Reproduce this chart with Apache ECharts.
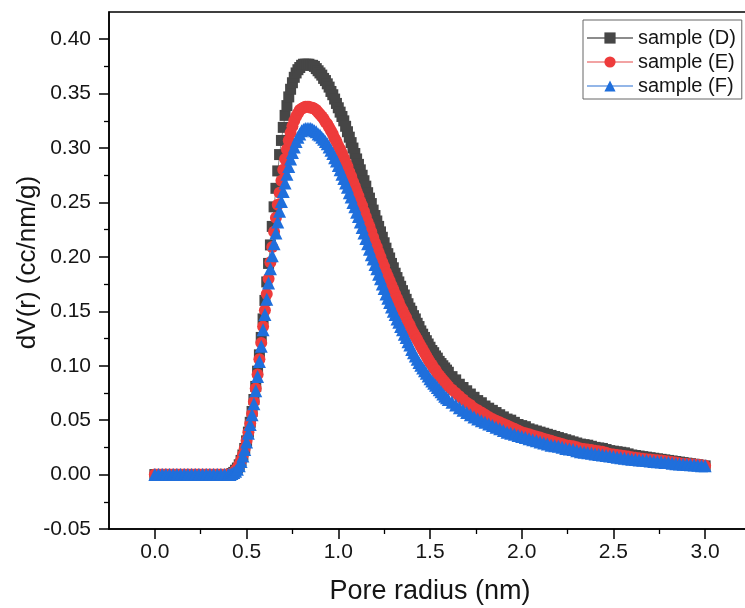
<!DOCTYPE html>
<html>
<head>
<meta charset="utf-8">
<script src="https://cdn.jsdelivr.net/npm/echarts@6/dist/echarts.min.js"></script>
<style>
  html, body { margin: 0; padding: 0; background: #fff; }
  #chart { width: 745px; height: 608px; }
</style>
</head>
<body>
<div id="chart"></div>
<script>
// pore radius (nm)
const radius = [
  0.00, 0.02, 0.04, 0.06, 0.08, 0.10, 0.12, 0.14, 0.16, 0.18, 0.20, 0.22, 0.24, 0.26, 0.28, 0.30, 0.32, 0.34, 0.36, 0.38, 0.40,
  0.41, 0.42, 0.43, 0.44, 0.45, 0.46, 0.47, 0.48, 0.49, 0.50, 0.51, 0.52, 0.53, 0.54, 0.55, 0.56, 0.57, 0.58, 0.59, 0.60,
  0.61, 0.62, 0.63, 0.64, 0.65, 0.66, 0.67, 0.68, 0.69, 0.70, 0.71, 0.72, 0.73, 0.74, 0.75, 0.76, 0.77, 0.78, 0.79, 0.80,
  0.81, 0.82, 0.83, 0.84, 0.85, 0.86, 0.87, 0.88, 0.89, 0.90, 0.91, 0.92, 0.93, 0.94, 0.95, 0.96, 0.97, 0.98, 0.99, 1.00,
  1.01, 1.02, 1.03, 1.04, 1.05, 1.06, 1.07, 1.08, 1.09, 1.10, 1.11, 1.12, 1.13, 1.14, 1.15, 1.16, 1.17, 1.18, 1.19, 1.20,
  1.21, 1.22, 1.23, 1.24, 1.25, 1.26, 1.27, 1.28, 1.29, 1.30, 1.31, 1.32, 1.33, 1.34, 1.35, 1.36, 1.37, 1.38, 1.39, 1.40,
  1.41, 1.42, 1.43, 1.44, 1.45, 1.46, 1.47, 1.48, 1.49, 1.50, 1.51, 1.52, 1.53, 1.54, 1.55, 1.56, 1.57, 1.58, 1.59, 1.60,
  1.62, 1.64, 1.66, 1.68, 1.70, 1.72, 1.74, 1.76, 1.78, 1.80, 1.82, 1.84, 1.86, 1.88, 1.90, 1.92, 1.94, 1.96, 1.98, 2.00,
  2.02, 2.04, 2.06, 2.08, 2.10, 2.12, 2.14, 2.16, 2.18, 2.20, 2.22, 2.24, 2.26, 2.28, 2.30, 2.32, 2.34, 2.36, 2.38, 2.40,
  2.42, 2.44, 2.46, 2.48, 2.50, 2.52, 2.54, 2.56, 2.58, 2.60, 2.62, 2.64, 2.66, 2.68, 2.70, 2.72, 2.74, 2.76, 2.78, 2.80,
  2.82, 2.84, 2.86, 2.88, 2.90, 2.92, 2.94, 2.96, 2.98, 3.00
];

// dV(r) (cc/nm/g)
const sampleD = [
  0, 0, 0, 0, 0, 0, 0, 0, 0, 0, 0, 0, 0, 0, 0, 0, 0, 0, 0, 0, 0,
  0.000, 0.001, 0.002, 0.004, 0.006, 0.009, 0.013, 0.018, 0.024, 0.031, 0.039, 0.048, 0.058, 0.069, 0.081, 0.095, 0.110, 0.126, 0.143, 0.160,
  0.177, 0.194, 0.211, 0.228, 0.246, 0.263, 0.279, 0.294, 0.307, 0.319, 0.330, 0.339, 0.347, 0.354, 0.360, 0.365, 0.369, 0.372, 0.374, 0.376,
  0.377, 0.377, 0.377, 0.377, 0.376, 0.376, 0.375, 0.373, 0.371, 0.369, 0.367, 0.364, 0.362, 0.359, 0.356, 0.352, 0.349, 0.345, 0.341, 0.337,
  0.333, 0.329, 0.325, 0.320, 0.315, 0.310, 0.305, 0.300, 0.295, 0.290, 0.285, 0.280, 0.275, 0.270, 0.265, 0.259, 0.254, 0.249, 0.243, 0.238,
  0.233, 0.228, 0.223, 0.218, 0.213, 0.208, 0.203, 0.199, 0.194, 0.190, 0.185, 0.181, 0.177, 0.173, 0.169, 0.165, 0.161, 0.157, 0.153, 0.150,
  0.146, 0.143, 0.139, 0.136, 0.132, 0.129, 0.126, 0.123, 0.120, 0.117, 0.114, 0.112, 0.109, 0.107, 0.104, 0.102, 0.100, 0.098, 0.096, 0.094,
  0.090, 0.087, 0.083, 0.080, 0.077, 0.074, 0.071, 0.068, 0.066, 0.063, 0.061, 0.059, 0.057, 0.055, 0.053, 0.051, 0.050, 0.048, 0.046, 0.045,
  0.044, 0.042, 0.041, 0.040, 0.039, 0.038, 0.037, 0.036, 0.035, 0.034, 0.033, 0.032, 0.031, 0.030, 0.029, 0.028, 0.0275, 0.027, 0.026, 0.025,
  0.0245, 0.024, 0.023, 0.022, 0.0215, 0.021, 0.0205, 0.020, 0.019, 0.018, 0.0175, 0.017, 0.0165, 0.016, 0.0155, 0.015, 0.0145, 0.014, 0.0135, 0.013,
  0.0125, 0.012, 0.0115, 0.011, 0.0105, 0.010, 0.0095, 0.009, 0.0085, 0.008
];
const sampleE = [
  0, 0, 0, 0, 0, 0, 0, 0, 0, 0, 0, 0, 0, 0, 0, 0, 0, 0, 0, 0, 0,
  0.000, 0.001, 0.002, 0.004, 0.006, 0.009, 0.013, 0.018, 0.024, 0.031, 0.039, 0.047, 0.056, 0.067, 0.079, 0.092, 0.106, 0.121, 0.136, 0.151,
  0.166, 0.180, 0.195, 0.209, 0.223, 0.236, 0.248, 0.259, 0.270, 0.280, 0.290, 0.299, 0.307, 0.314, 0.320, 0.325, 0.329, 0.332, 0.335, 0.336,
  0.337, 0.338, 0.338, 0.338, 0.337, 0.337, 0.336, 0.335, 0.333, 0.331, 0.329, 0.327, 0.324, 0.322, 0.319, 0.316, 0.313, 0.309, 0.306, 0.302,
  0.299, 0.295, 0.291, 0.287, 0.283, 0.278, 0.274, 0.269, 0.265, 0.260, 0.256, 0.251, 0.247, 0.242, 0.237, 0.232, 0.228, 0.223, 0.218, 0.213,
  0.209, 0.204, 0.200, 0.195, 0.191, 0.186, 0.182, 0.178, 0.174, 0.170, 0.166, 0.162, 0.158, 0.154, 0.151, 0.147, 0.144, 0.140, 0.137, 0.133,
  0.130, 0.127, 0.124, 0.121, 0.118, 0.115, 0.112, 0.109, 0.106, 0.103, 0.101, 0.098, 0.096, 0.093, 0.091, 0.089, 0.087, 0.085, 0.083, 0.081,
  0.078, 0.075, 0.072, 0.069, 0.066, 0.064, 0.061, 0.059, 0.057, 0.055, 0.053, 0.051, 0.0495, 0.048, 0.0465, 0.045, 0.0435, 0.042, 0.0405, 0.039,
  0.038, 0.037, 0.036, 0.035, 0.034, 0.033, 0.032, 0.031, 0.030, 0.029, 0.028, 0.027, 0.0265, 0.026, 0.025, 0.024, 0.0235, 0.023, 0.0225, 0.022,
  0.0215, 0.021, 0.020, 0.019, 0.0185, 0.018, 0.0175, 0.017, 0.0165, 0.016, 0.0155, 0.015, 0.0145, 0.014, 0.0138, 0.0135, 0.0132, 0.013, 0.0125, 0.012,
  0.0115, 0.011, 0.0105, 0.010, 0.0098, 0.0095, 0.0092, 0.009, 0.0085, 0.008
];
const sampleF = [
  0, 0, 0, 0, 0, 0, 0, 0, 0, 0, 0, 0, 0, 0, 0, 0, 0, 0, 0, 0, 0,
  0.000, 0.001, 0.002, 0.003, 0.005, 0.008, 0.012, 0.017, 0.023, 0.030, 0.038, 0.046, 0.055, 0.065, 0.077, 0.090, 0.104, 0.118, 0.133, 0.147,
  0.161, 0.176, 0.189, 0.201, 0.212, 0.222, 0.232, 0.242, 0.251, 0.260, 0.268, 0.276, 0.283, 0.290, 0.296, 0.301, 0.306, 0.310, 0.313, 0.316,
  0.317, 0.318, 0.318, 0.318, 0.318, 0.317, 0.316, 0.315, 0.313, 0.312, 0.310, 0.308, 0.306, 0.304, 0.301, 0.298, 0.295, 0.291, 0.288, 0.284,
  0.280, 0.276, 0.272, 0.268, 0.264, 0.259, 0.255, 0.250, 0.246, 0.241, 0.237, 0.232, 0.227, 0.222, 0.217, 0.212, 0.207, 0.202, 0.198, 0.193,
  0.189, 0.184, 0.180, 0.175, 0.171, 0.166, 0.162, 0.158, 0.154, 0.150, 0.147, 0.143, 0.140, 0.136, 0.133, 0.129, 0.126, 0.122, 0.119, 0.115,
  0.112, 0.109, 0.106, 0.103, 0.1005, 0.098, 0.0955, 0.093, 0.0905, 0.088, 0.086, 0.084, 0.082, 0.080, 0.078, 0.076, 0.074, 0.072, 0.0705, 0.069,
  0.0665, 0.064, 0.0615, 0.059, 0.057, 0.055, 0.053, 0.051, 0.0495, 0.048, 0.0465, 0.045, 0.0435, 0.042, 0.0405, 0.039, 0.038, 0.037, 0.036, 0.035,
  0.034, 0.033, 0.032, 0.031, 0.030, 0.029, 0.028, 0.027, 0.0265, 0.026, 0.025, 0.024, 0.0235, 0.023, 0.022, 0.021, 0.0205, 0.020, 0.0195, 0.019,
  0.0185, 0.018, 0.0175, 0.017, 0.0165, 0.016, 0.0155, 0.015, 0.0145, 0.014, 0.0138, 0.0135, 0.0132, 0.013, 0.0125, 0.012, 0.0118, 0.0115, 0.0112, 0.011,
  0.0105, 0.010, 0.0098, 0.0095, 0.0092, 0.009, 0.0088, 0.0085, 0.0082, 0.008
];

// tick positions
const xMajorTicks = [0, 0.5, 1.0, 1.5, 2.0, 2.5, 3.0];
const xMinorTicks = [0.25, 0.75, 1.25, 1.75, 2.25, 2.75];
const yMajorTicks = [-0.05, 0, 0.05, 0.10, 0.15, 0.20, 0.25, 0.30, 0.35, 0.40];
const yMinorTicks = [-0.025, 0.025, 0.075, 0.125, 0.175, 0.225, 0.275, 0.325, 0.375];

const seriesNames = ['sample (D)', 'sample (E)', 'sample (F)'];
const seriesValues = [sampleD, sampleE, sampleF];
const symbols = ['rect', 'circle', 'triangle'];
const symbolSizes = [11, 12, 13];
const markColors = ['#464646', '#ee3b3b', '#1f6fdc'];
const lineColors = ['#8c8c8c', '#f2a3a3', '#93b6e8'];

const fontFamily = 'Liberation Sans, Arial, sans-serif';
const textColor = '#151515';

const xMin = -0.25, xMax = 3.25, yMin = -0.05, yMax = 0.425;

const chart = echarts.init(document.getElementById('chart'));

const series = seriesValues.map((vals, i) => ({
  name: seriesNames[i],
  type: 'line',
  xAxisIndex: 0,
  yAxisIndex: 0,
  symbol: symbols[i],
  symbolSize: symbolSizes[i],
  showAllSymbol: true,
  itemStyle: { color: markColors[i] },
  lineStyle: { color: lineColors[i], width: 1 },
  data: radius.map((r, k) => [r, vals[k]])
}));

const axisLine = { show: true, onZero: false, lineStyle: { color: '#000', width: 1.5 } };
const hiddenLine = { show: true, onZero: false, lineStyle: { color: 'rgba(0,0,0,0)', width: 1 } };

const option = {
  animation: false,
  backgroundColor: '#fff',
  textStyle: { fontFamily: fontFamily },
  legend: {
    orient: 'vertical',
    left: 583,
    top: 20,
    padding: [8, 6, 3, 3],
    itemGap: 4,
    itemWidth: 46,
    itemHeight: 14,
    borderColor: '#666',
    borderWidth: 1,
    textStyle: { fontSize: 20, color: textColor, fontFamily: fontFamily },
    data: seriesNames
  },
  grid: {
    left: 109, top: 12, right: -6, bottom: 79,
    containLabel: false,
    outerBoundsMode: 'none',
    show: true, borderColor: '#000', borderWidth: 1.5, backgroundColor: 'transparent'
  },
  xAxis: [
    {
      type: 'value',
      position: 'bottom',
      min: xMin, max: xMax,
      axisLine: axisLine,
      axisTick: { show: true, inside: false, length: 10, customValues: xMajorTicks,
        lineStyle: { color: '#000', width: 1.5 } },
      axisLabel: { show: true, customValues: xMajorTicks, fontSize: 21, color: textColor, margin: 13,
        formatter: v => v.toFixed(1) },
      splitLine: { show: false },
      name: 'Pore radius (nm)',
      nameLocation: 'middle',
      nameMoveOverlap: false,
      nameGap: 49,
      nameTextStyle: { fontSize: 27, color: textColor, fontFamily: fontFamily }
    },
    {
      type: 'value',
      position: 'bottom',
      min: xMin, max: xMax,
      axisLine: hiddenLine,
      axisTick: { show: true, inside: false, length: 5, customValues: xMinorTicks,
        lineStyle: { color: '#000', width: 1.3 } },
      axisLabel: { show: false },
      splitLine: { show: false }
    }
  ],
  yAxis: [
    {
      type: 'value',
      position: 'left',
      min: yMin, max: yMax,
      axisLine: axisLine,
      axisTick: { show: true, inside: false, length: 10, customValues: yMajorTicks,
        lineStyle: { color: '#000', width: 1.5 } },
      axisLabel: { show: true, customValues: yMajorTicks, fontSize: 21, color: textColor, margin: 18,
        formatter: v => v.toFixed(2) },
      splitLine: { show: false },
      name: 'dV(r) (cc/nm/g)',
      nameLocation: 'middle',
      nameMoveOverlap: false,
      nameGap: 68,
      nameTextStyle: { fontSize: 26, color: textColor, fontFamily: fontFamily, padding: [0, 0, 0, 16] }
    },
    {
      type: 'value',
      position: 'left',
      offset: 0,
      min: yMin, max: yMax,
      axisLine: hiddenLine,
      axisTick: { show: true, inside: false, length: 5, customValues: yMinorTicks,
        lineStyle: { color: '#000', width: 1.3 } },
      axisLabel: { show: false },
      splitLine: { show: false }
    }
  ],
  series: series
};

chart.setOption(option);
</script>
</body>
</html>
